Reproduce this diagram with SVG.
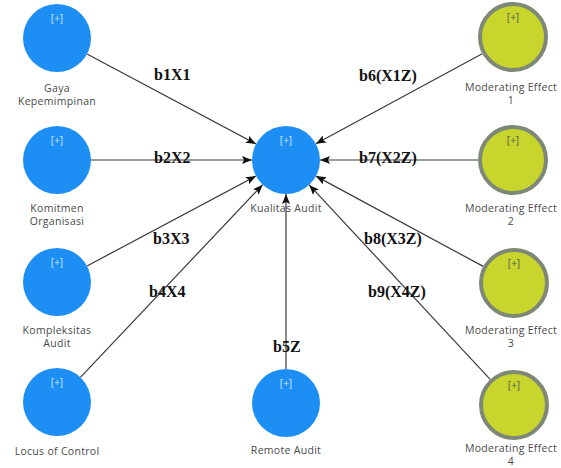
<svg xmlns="http://www.w3.org/2000/svg" width="561" height="468" viewBox="0 0 561 468">
<style>
.blue{fill:#1c8ef4}
.mod{fill:#c7d52c;stroke:#7d8876;stroke-width:4}
.plus{font-family:"Open Sans","Liberation Sans",sans-serif;font-size:10px;text-anchor:middle}
.pw{fill:#cfe6ff}
.pd{fill:#555}
.lbl{font-family:"Open Sans","Liberation Sans",sans-serif;font-size:10.5px;letter-spacing:0.3px;fill:#4a4a4a;text-anchor:middle}
.edge{stroke:#3a3a3a;stroke-width:1.2;fill:none;marker-end:url(#arr)}
.el{font-family:"Liberation Serif","Times New Roman",serif;font-weight:bold;font-size:16px;fill:#111}
</style>
<defs>
<marker id="arr" markerUnits="userSpaceOnUse" markerWidth="11" markerHeight="10" refX="10" refY="4" orient="auto">
<path d="M0,0 L10,4 L0,8 L2,4 z" fill="#111"/>
</marker>
</defs>
<rect width="561" height="468" fill="#fff"/>
<g id="connectors">
<line class="edge" x1="87" y1="54" x2="256" y2="144"/>
<line class="edge" x1="91" y1="160" x2="252" y2="160"/>
<line class="edge" x1="87" y1="266" x2="256" y2="176"/>
<line class="edge" x1="80.4" y1="377.3" x2="262.6" y2="184.7"/>
<line class="edge" x1="286" y1="369" x2="286" y2="194"/>
<line class="edge" x1="482.2" y1="53.7" x2="315.9" y2="143.8"/>
<line class="edge" x1="478" y1="160" x2="320" y2="160"/>
<line class="edge" x1="483.2" y1="266.4" x2="315.9" y2="176.1"/>
<line class="edge" x1="490.2" y1="379.4" x2="309.2" y2="184.9"/>
</g>
<g id="edge-labels">
<text class="el" x="154" y="80">b1X1</text>
<text class="el" x="154" y="163">b2X2</text>
<text class="el" x="153" y="244">b3X3</text>
<text class="el" x="149" y="297">b4X4</text>
<text class="el" x="273" y="352">b5Z</text>
<text class="el" x="359" y="81">b6(X1Z)</text>
<text class="el" x="359" y="163">b7(X2Z)</text>
<text class="el" x="364" y="244">b8(X3Z)</text>
<text class="el" x="368" y="297">b9(X4Z)</text>
</g>
<g id="gaya">
<circle class="blue" cx="57" cy="38" r="34"/>
<text class="plus pw" x="57" y="22">[+]</text>
<text class="lbl" x="57" y="92">Gaya</text>
<text class="lbl" x="57" y="105">Kepemimpinan</text>
</g>
<g id="komitmen">
<circle class="blue" cx="57" cy="160" r="34"/>
<text class="plus pw" x="57" y="144">[+]</text>
<text class="lbl" x="57" y="212">Komitmen</text>
<text class="lbl" x="57" y="225">Organisasi</text>
</g>
<g id="kompleksitas">
<circle class="blue" cx="57" cy="282" r="34"/>
<text class="plus pw" x="57" y="266">[+]</text>
<text class="lbl" x="57" y="334">Kompleksitas</text>
<text class="lbl" x="57" y="347">Audit</text>
</g>
<g id="locus">
<circle class="blue" cx="57" cy="402" r="34"/>
<text class="plus pw" x="57" y="386">[+]</text>
<text class="lbl" x="57" y="455">Locus of Control</text>
</g>
<g id="kualitas">
<circle class="blue" cx="286" cy="160" r="34"/>
<text class="plus pw" x="286" y="144">[+]</text>
<text class="lbl" x="286" y="212">Kualitas Audit</text>
</g>
<g id="remote">
<circle class="blue" cx="286" cy="403" r="34"/>
<text class="plus pw" x="286" y="387">[+]</text>
<text class="lbl" x="286" y="454">Remote Audit</text>
</g>
<g id="mod1">
<circle class="mod" cx="513" cy="37" r="33"/>
<text class="plus pd" x="513" y="21">[+]</text>
<text class="lbl" x="511" y="91">Moderating Effect</text>
<text class="lbl" x="511" y="104">1</text>
</g>
<g id="mod2">
<circle class="mod" cx="513" cy="160" r="33"/>
<text class="plus pd" x="513" y="144">[+]</text>
<text class="lbl" x="511" y="212">Moderating Effect</text>
<text class="lbl" x="511" y="225">2</text>
</g>
<g id="mod3">
<circle class="mod" cx="514" cy="283" r="33"/>
<text class="plus pd" x="514" y="267">[+]</text>
<text class="lbl" x="511" y="334">Moderating Effect</text>
<text class="lbl" x="511" y="347">3</text>
</g>
<g id="mod4">
<circle class="mod" cx="514" cy="405" r="33"/>
<text class="plus pd" x="514" y="389">[+]</text>
<text class="lbl" x="511" y="452">Moderating Effect</text>
<text class="lbl" x="511" y="465">4</text>
</g>
</svg>
